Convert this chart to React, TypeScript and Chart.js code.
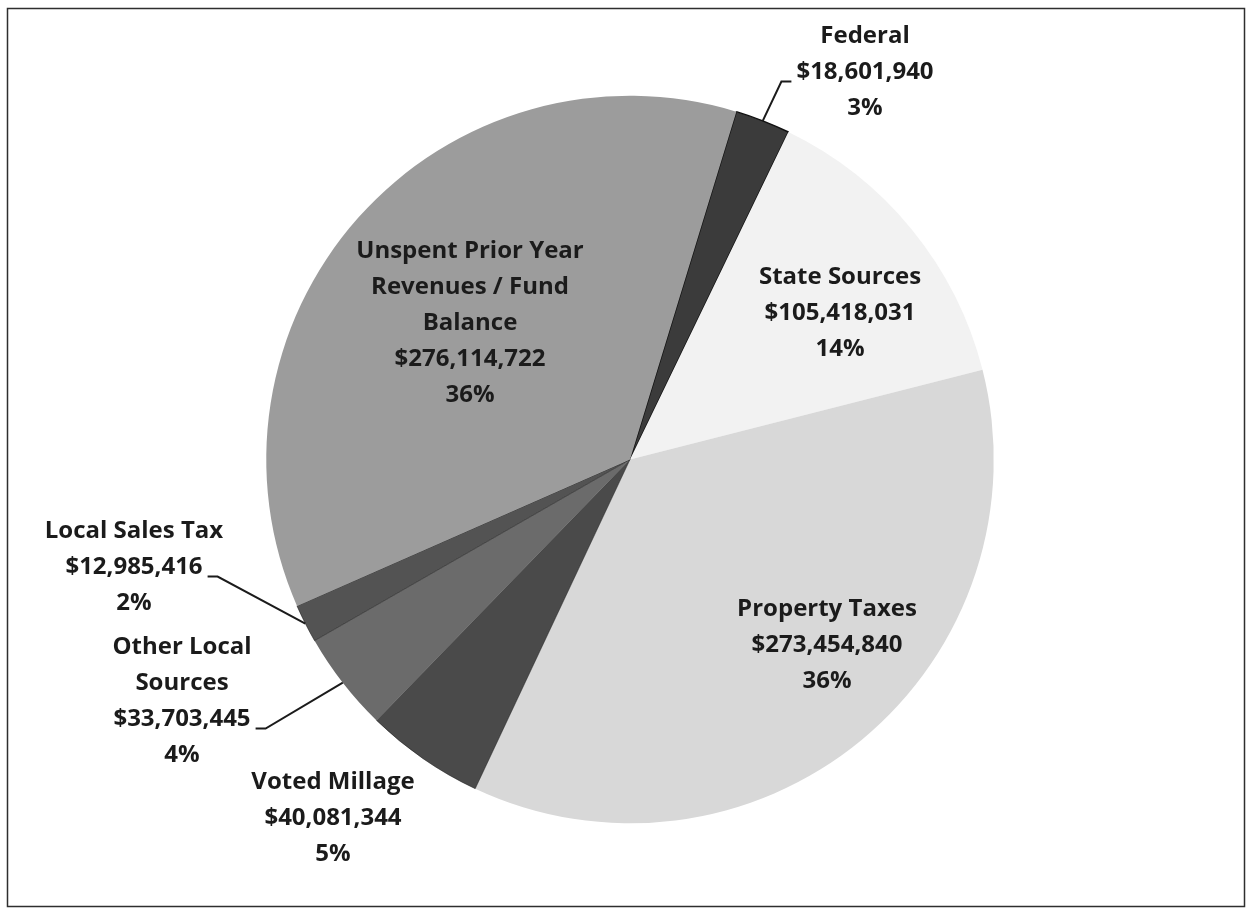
import React, { useEffect, useRef } from "react";
import { Chart, registerables } from "chart.js";

Chart.register(...registerables);

const categories = [
  "Federal",
  "State Sources",
  "Property Taxes",
  "Voted Millage",
  "Other Local Sources",
  "Local Sales Tax",
  "Unspent Prior Year Revenues / Fund Balance",
];
const amounts = [18601940, 105418031, 273454840, 40081344, 33703445, 12985416, 276114722];
const percentLabels = ["3%", "14%", "36%", "5%", "4%", "2%", "36%"];
const nameLines = [
  ["Federal"],
  ["State Sources"],
  ["Property Taxes"],
  ["Voted Millage"],
  ["Other Local", "Sources"],
  ["Local Sales Tax"],
  ["Unspent Prior Year", "Revenues / Fund", "Balance"],
];
const sliceColors = ["#3b3b3b", "#f2f2f2", "#d8d8d8", "#4a4a4a", "#6b6b6b", "#535353", "#9c9c9c"];

// label layout: first-line centre offset from pie centre (px), leader side
const labelLayout = [
  { dx: 235, dy: -423, leader: "left" },
  { dx: 210, dy: -182, leader: null },
  { dx: 197, dy: 150, leader: null },
  { dx: -297, dy: 323, leader: null },
  { dx: -448, dy: 188, leader: "right" },
  { dx: -496, dy: 72, leader: "right" },
  { dx: -160, dy: -208, leader: null },
];

const fmt = (v: number) => "$" + v.toLocaleString("en-US");

const FONT = "bold 24px 'Open Sans'";
const LINE_H = 36;

const labelPlugin = {
  id: "pieLabels",
  afterDraw(chart: any) {
    const ctx = chart.ctx;
    const meta = chart.getDatasetMeta(0);
    ctx.save();
    ctx.font = FONT;
    ctx.fillStyle = "#1b1b1b";
    ctx.textAlign = "center";
    ctx.textBaseline = "middle";
    meta.data.forEach((arc: any, i: number) => {
      const { x, y, startAngle, endAngle, outerRadius } = arc.getProps(
        ["x", "y", "startAngle", "endAngle", "outerRadius"],
        true
      );
      const lay = labelLayout[i];
      const lines = [...nameLines[i], fmt(amounts[i]), percentLabels[i]];
      const cx = x + lay.dx;
      const cy0 = y + lay.dy;
      lines.forEach((t, k) => ctx.fillText(t, cx, cy0 + k * LINE_H));
      if (lay.leader) {
        const amtIdx = nameLines[i].length;
        const w = ctx.measureText(lines[amtIdx]).width;
        const ly = cy0 + amtIdx * LINE_H + 9;
        const mid = (startAngle + endAngle) / 2;
        const ex = x + Math.cos(mid) * outerRadius;
        const ey = y + Math.sin(mid) * outerRadius;
        ctx.beginPath();
        ctx.strokeStyle = "#1b1b1b";
        ctx.lineWidth = 2;
        if (lay.leader === "left") {
          const sx = cx - w / 2 - 5;
          ctx.moveTo(sx, ly);
          ctx.lineTo(sx - 10, ly);
        } else {
          const sx = cx + w / 2 + 5;
          ctx.moveTo(sx, ly);
          ctx.lineTo(sx + 10, ly);
        }
        ctx.lineTo(ex, ey);
        ctx.stroke();
      }
    });
    ctx.restore();
  },
};

const framePlugin = {
  id: "frame",
  beforeDraw(chart: any) {
    const ctx = chart.ctx;
    ctx.save();
    ctx.fillStyle = "#ffffff";
    ctx.fillRect(0, 0, chart.width, chart.height);
    ctx.strokeStyle = "#2e2e2e";
    ctx.lineWidth = 1.5;
    ctx.strokeRect(7.5, 8.5, 1237, 898);
    ctx.restore();
  },
};

export default function App() {
  const ref = useRef<HTMLCanvasElement | null>(null);
  useEffect(() => {
    if (!ref.current) return;
    const chart = new Chart(ref.current, {
      type: "pie",
      data: {
        labels: categories,
        datasets: [
          {
            data: amounts,
            backgroundColor: sliceColors,
            borderColor: ["#111111", "rgba(0,0,0,0)", "rgba(0,0,0,0)", "rgba(30,30,30,0.5)", "rgba(0,0,0,0)", "rgba(30,30,30,0.6)", "rgba(0,0,0,0)"],
            borderWidth: [1.5, 0, 0, 1, 0, 1, 0],
          },
        ],
      },
      options: {
        responsive: false,
        animation: false,
        rotation: 17,
        layout: { padding: { left: 200, right: 187, top: 95, bottom: 85 } },
        plugins: {
          legend: { display: false },
          tooltip: { enabled: false },
        },
      },
      plugins: [framePlugin, labelPlugin],
    });
    return () => chart.destroy();
  }, []);
  return (
    <div style={{ position: "fixed", left: 0, top: 0, width: 1247, height: 909, background: "#fff" }}>
      <canvas ref={ref} width={1247} height={909} style={{ display: "block" }} />
    </div>
  );
}
